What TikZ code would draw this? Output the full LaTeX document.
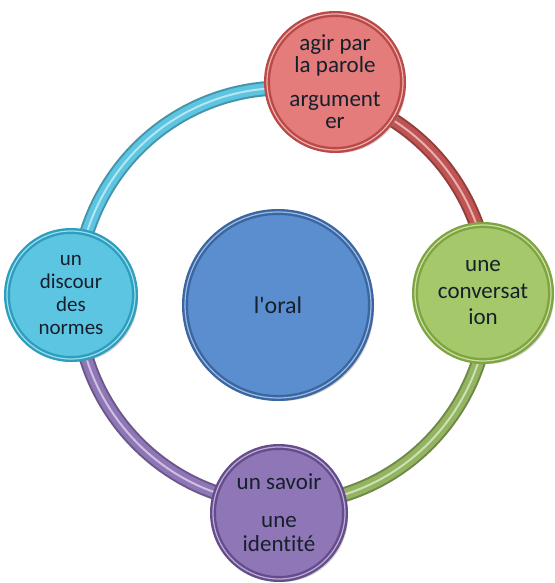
\documentclass[tikz,border=0pt]{standalone}
\usepackage{fontspec}
\setmainfont{Carlito}[Ligatures=NoCommon]
\usepackage{tikz}
\usetikzlibrary{backgrounds,shadows}

\definecolor{ink}{HTML}{16202C}
\definecolor{redbead}{HTML}{E37C7A}
\definecolor{redrim}{HTML}{B94A48}
\definecolor{cyanbead}{HTML}{5CC5E2}
\definecolor{cyanrim}{HTML}{2E9EBE}
\definecolor{greenbead}{HTML}{A5C96A}
\definecolor{greenrim}{HTML}{7FA440}
\definecolor{purplebead}{HTML}{8F76B7}
\definecolor{purplerim}{HTML}{654C8C}
\definecolor{bluebead}{HTML}{5B8ECF}
\definecolor{bluerim}{HTML}{3A66A2}

\tikzset{
  bead/.style 2 args={circle, fill=#1, draw=#2, line width=2.4pt,
    double=#1!60!white, double distance=1.2pt, text=ink, align=center,
    inner sep=0pt,
    drop shadow={shadow xshift=3pt, shadow yshift=-3pt, opacity=.4}},
  tube/.style={line width=15pt, draw=#1!75!black,
    postaction={draw=#1, line width=11pt},
    postaction={draw=#1!45!white, line width=2pt}},
}

\begin{document}
\begin{tikzpicture}[x=1pt, y=1pt]
  \useasboundingbox (0, 0) rectangle (554, 583);

  % Centre of the ring.
  \coordinate (hub) at (283, 287);

  % Centre.
  \node (oral) [bead={bluebead}{bluerim}, minimum size=186pt,
    font=\fontsize{24}{26}\selectfont] at (278, 278)
    {l\textquotesingle oral};

  % Four beads on the ring.
  \node (parole) [bead={redbead}{redrim}, minimum size=136pt,
    font=\fontsize{23}{22}\selectfont] at (335, 501)
    {agir par\\la parole\\[12pt]argument\\er};
  \node (conv) [bead={greenbead}{greenrim}, minimum size=136pt,
    font=\fontsize{23}{26.5}\selectfont] at (483, 290)
    {une\\conversat\\ion};
  \node (savoir) [bead={purplebead}{purplerim}, minimum size=132pt,
    font=\fontsize{23}{24}\selectfont] at (279, 70)
    {un savoir\\[14pt]une\\identité};
  \node (normes) [bead={cyanbead}{cyanrim}, minimum size=128pt,
    font=\fontsize{21}{23}\selectfont] at (71, 288)
    {un\\discour\\des\\normes};

  % Ring.
  \begin{scope}[on background layer]
    \draw [tube=cyanbead] (hub) ++(76:206pt and 208pt)
      arc [start angle=76, end angle=180, x radius=206pt, y radius=208pt];
    \draw [tube=redrim!80!redbead] (hub) ++(0:206pt and 208pt)
      arc [start angle=0, end angle=76, x radius=206pt, y radius=208pt];
    \draw [tube=greenbead!90!black] (hub) ++(-91:206pt and 208pt)
      arc [start angle=-91, end angle=0, x radius=206pt, y radius=208pt];
    \draw [tube=purplebead] (hub) ++(180:206pt and 208pt)
      arc [start angle=180, end angle=269, x radius=206pt, y radius=208pt];
  \end{scope}
\end{tikzpicture}
\end{document}
